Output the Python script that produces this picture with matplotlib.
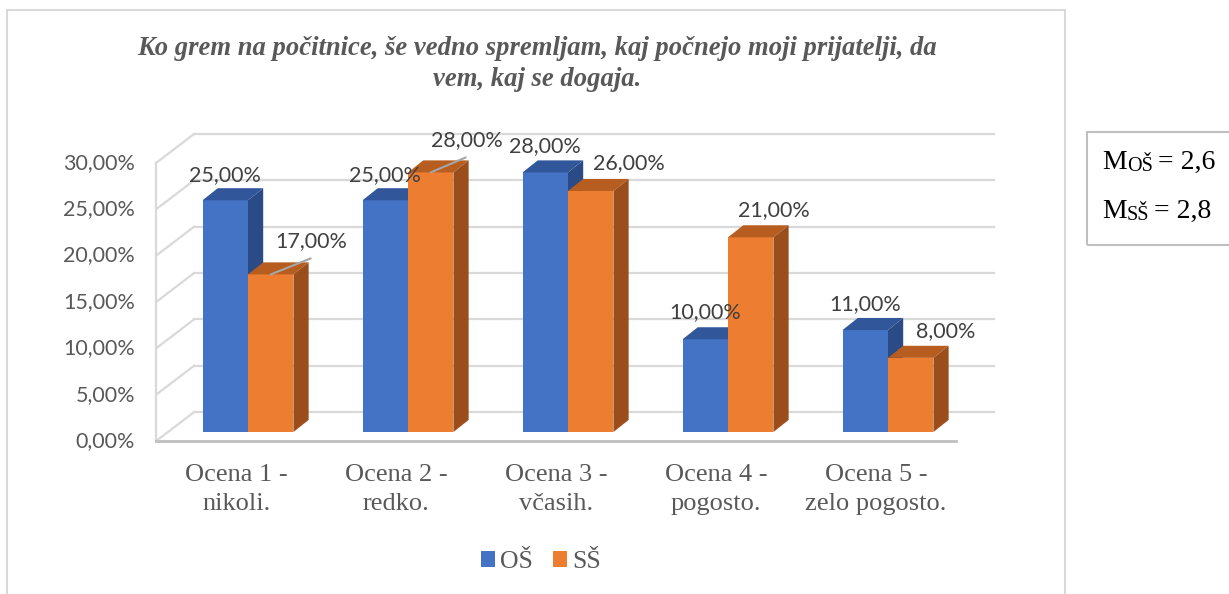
import matplotlib
matplotlib.use("Agg")
import matplotlib.pyplot as plt
from matplotlib.patches import Polygon, Rectangle, Patch

# data
categories = ["Ocena 1 -\nnikoli.", "Ocena 2 -\nredko.", "Ocena 3 -\nvčasih.",
              "Ocena 4 -\npogosto.", "Ocena 5 -\nzelo pogosto."]
os_values = [25, 25, 28, 10, 11]
ss_values = [17, 28, 26, 21, 8]
series_names = ["OŠ", "SŠ"]
y_ticks = [0, 5, 10, 15, 20, 25, 30]
title = ("Ko grem na počitnice, še vedno spremljam, kaj počnejo moji prijatelji, da\n"
         "vem, kaj se dogaja.")
mean_labels = ["OŠ", "SŠ"]
mean_values = ["2,6", "2,8"]

# label offsets in pixels from the top front of each bar (x, up)
os_label_off = [(0, 25), (0, 25), (0, 26), (0, 27), (0, 26)]
ss_label_off = [(41, 33), (36, 32), (38, 28), (23, 27), (35, 27)]
ss_leader = [True, True, False, False, False]

W, H = 1229, 594
fig = plt.figure(figsize=(W / 100, H / 100), dpi=100)


def fx(px):
    return px / W


def fy(py):
    return 1 - py / H


# plot area: x in category units, y in percent
xlim = (-0.9, 5.0)
ylim = (-2.0, 34.0)
x0 = 248 + 160 * xlim[0]
x1 = 248 + 160 * xlim[1]
y0 = 432 - 9.27 * ylim[0]
y1 = 432 - 9.27 * ylim[1]
ax = fig.add_axes([fx(x0), fy(y0), (x1 - x0) / W, (y0 - y1) / H])
ax.set_xlim(*xlim)
ax.set_ylim(*ylim)
ax.axis("off")

# pseudo 3d geometry
Fx, Fy = -0.074, -0.97    # front plane relative to bar plane
Bx, By = 0.164, 2.16      # back wall
dx, dy = 0.095, 1.3       # bar depth
bw = 0.284
grid_c = "#d9d9d9"
lab_font = dict(fontsize=15.5, family="Lato")
n = len(categories)
left, right = -0.5, n - 0.5

for t in y_ticks:
    ax.plot([left + Bx, right + Bx], [t + By, t + By], color=grid_c, lw=1.6, zorder=1)
    ax.plot([left + Fx, left + Bx], [t + Fy, t + By], color=grid_c, lw=1.6, zorder=1)
    ax.annotate(f"{t},00%", (left + Fx, t + Fy), xytext=(-21, 0),
                textcoords="offset pixels", ha="right", va="center",
                color="#595959", **lab_font)
ax.plot([left + Fx, left + Fx], [Fy, y_ticks[-1] + Fy], color=grid_c, lw=1.6, zorder=1)
ax.plot([left + Fx, right + Fx], [Fy, Fy], color="#bfbfbf", lw=2, zorder=2)

colors = [("#4472C4", "#31569A", "#2A4B86"), ("#ED7D31", "#B65D1F", "#9A4E1B")]


def draw_bar(xl, v, cols, z):
    front, top, side = cols
    xr = xl + bw
    ax.add_patch(Polygon([(xl, 0), (xr, 0), (xr, v), (xl, v)], closed=True,
                         facecolor=front, edgecolor="none", zorder=z))
    ax.add_patch(Polygon([(xl, v), (xr, v), (xr + dx, v + dy), (xl + dx, v + dy)],
                         closed=True, facecolor=top, edgecolor="none", zorder=z))
    ax.add_patch(Polygon([(xr, 0), (xr + dx, dy), (xr + dx, v + dy), (xr, v)],
                         closed=True, facecolor=side, edgecolor="none", zorder=z))


for i in range(n):
    z = 3 + i
    draw_bar(i - bw, os_values[i], colors[0], z)
    draw_bar(i, ss_values[i], colors[1], z + 0.5)

    cx = i - bw / 2
    ax.annotate(f"{os_values[i]},00%", (cx, os_values[i]), xytext=os_label_off[i],
                textcoords="offset pixels", ha="center", va="center",
                color="#404040", zorder=20, **lab_font)
    cx = i + bw / 2
    ax.annotate(f"{ss_values[i]},00%", (cx, ss_values[i]), xytext=ss_label_off[i],
                textcoords="offset pixels", ha="center", va="center",
                color="#404040", zorder=20, **lab_font)
    if ss_leader[i]:
        ox, oy = ss_label_off[i]
        ax.annotate("", (cx, ss_values[i]), xytext=(ox - 1, oy - 17),
                    textcoords="offset pixels",
                    arrowprops=dict(arrowstyle="-", color="#a6a6a6", lw=1.5,
                                    shrinkA=0, shrinkB=0), zorder=19)

    ax.annotate(categories[i], (i + Fx, Fy), xytext=(0, -23),
                textcoords="offset pixels", ha="center", va="top",
                fontsize=19, family="Liberation Serif", color="#595959",
                linespacing=1.42)

fig.text(fx(537), fy(64), title, ha="center", va="center", fontsize=19.2,
         family="Liberation Serif", weight="bold", style="italic",
         color="#595959", linespacing=1.35)

# chart frame
fig.add_artist(Rectangle((fx(7), fy(620)), (1065 - 7) / W, (620 - 10) / H,
                         transform=fig.transFigure, fill=False,
                         edgecolor="#d9d9d9", lw=1.5))

handles = [Patch(facecolor=colors[0][0]), Patch(facecolor=colors[1][0])]
fig.legend(handles, series_names, loc="center", bbox_to_anchor=(fx(541), fy(562)),
           ncol=2, frameon=False, handlelength=0.55, handleheight=0.55,
           handletextpad=0.2, columnspacing=0.8,
           prop={"family": "Liberation Serif", "size": 18.5}, labelcolor="#595959")

# mean values box
fig.add_artist(Rectangle((fx(1087), fy(245)), (1240 - 1087) / W, (245 - 132) / H,
                         transform=fig.transFigure, fill=False,
                         edgecolor="#bfbfbf", lw=1.5))
renderer = fig.canvas.get_renderer()
for k, base in enumerate([169, 218]):
    xpos = 1102
    pieces = [("M", 20, 0, 0), (mean_labels[k], 14.5, 2, 5), ("= " + mean_values[k], 20, 0, 0)]
    for txt, size, drop, gap in pieces:
        t = fig.text(fx(xpos), fy(base + drop), txt, fontsize=size,
                     family="Liberation Serif", va="baseline", color="black")
        ext = t.get_window_extent(renderer)
        xpos += ext.width + gap

fig.savefig("out.png", dpi=100)
